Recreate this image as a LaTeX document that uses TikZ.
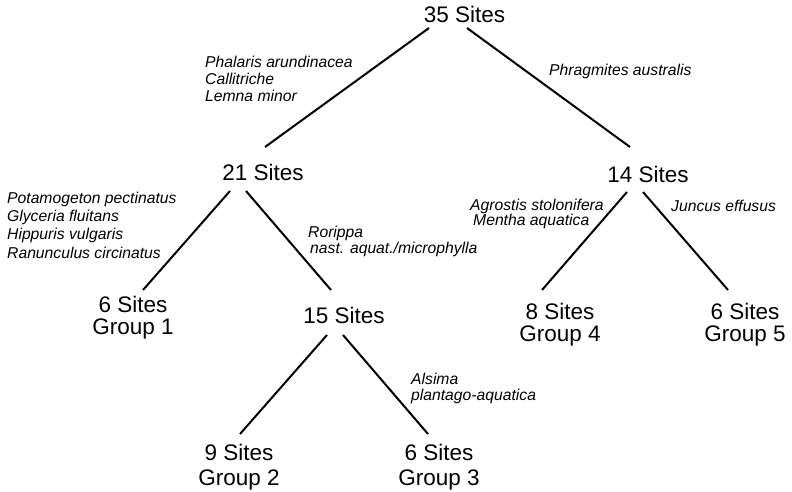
\documentclass[tikz,border=0pt]{standalone}
\usepackage{fontspec}
\setmainfont{Liberation Sans}
\usetikzlibrary{calc}
\begin{document}
\begin{tikzpicture}[x=1pt,y=-1pt,
  sites/.style={inner sep=0pt,anchor=base,align=center,font=\fontsize{22.5}{#1}\selectfont},
  sites/.default=24,
  spec/.style={inner sep=0pt,anchor=base west,align=left,font=\fontsize{15.7}{#1}\selectfont\itshape},
  spec/.default=17,
  branch/.style={line width=2pt}]
\fill[white] (0,0) rectangle (792,492);
\useasboundingbox (0,0) rectangle (792,492);
% site nodes (base = baseline of last line)
\node[sites] (n35) at (464.5,23) {35 Sites};
\node[sites] (n21) at (263,180) {21 Sites};
\node[sites] (n14) at (648,182) {14 Sites};
\node[sites=21.5] (g1) at (133,334) {6 Sites\\Group 1};
\node[sites] (n15) at (344,323) {15 Sites};
\node[sites=21.5] (g4) at (560,341) {8 Sites\\Group 4};
\node[sites=21.5] (g5) at (745,341) {6 Sites\\Group 5};
\node[sites=25] (g2) at (239,485) {9 Sites\\Group 2};
\node[sites=25] (g3) at (439,485) {6 Sites\\Group 3};
% species labels
\node[spec] (s1) at (205,102) {Phalaris arundinacea\\Callitriche\\Lemna minor};
\node[spec] (s2) at (549,76) {Phragmites australis};
\node[spec=18.3] (s3) at (7,258) {Potamogeton pectinatus\\Glyceria fluitans\\Hippuris vulgaris\\Ranunculus circinatus};
\node[spec=16] (s4) at (308,253) {Rorippa\\\hspace*{2pt}nast. aquat./microphylla};
\node[spec=15] (s5) at (470,225) {Agrostis stolonifera\\\hspace*{3pt}Mentha aquatica};
\node[spec] (s6) at (671,211) {Juncus effusus};
\node[spec=16] (s7) at (411,400) {Alsima\\plantago-aquatica};
% branches
\draw[branch] ($(n35.base)+(-35.5,5)$) -- ($(n21.base)+(2,-33)$);
\draw[branch] ($(n35.base)+(2.5,5)$) -- ($(n14.base)+(-18,-35)$);
\draw[branch] ($(n21.base)+(-33,11)$) -- ($(g1.base)+(10,-44)$);
\draw[branch] ($(n21.base)+(-17,11)$) -- ($(n15.base)+(-13,-33)$);
\draw[branch] ($(n14.base)+(-21,10)$) -- ($(g4.base)+(-18,-51)$);
\draw[branch] ($(n14.base)+(-5,10)$) -- ($(g5.base)+(-17,-51)$);
\draw[branch] ($(n15.base)+(-17,12)$) -- ($(g2.base)+(1,-51)$);
\draw[branch] ($(n15.base)+(-1,12)$) -- ($(g3.base)+(-11,-51)$);
\end{tikzpicture}
\end{document}
